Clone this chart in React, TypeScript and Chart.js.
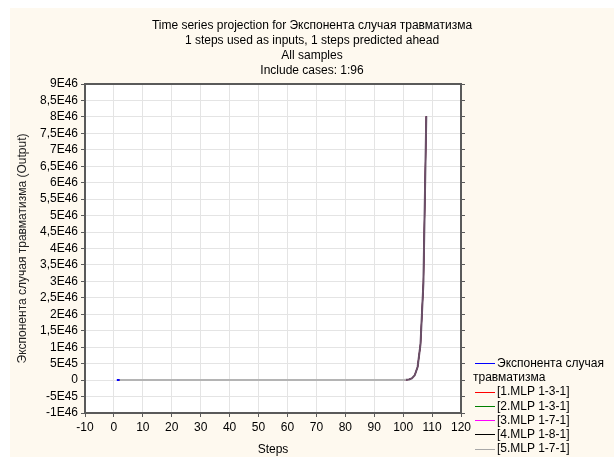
import React, { useEffect, useRef } from 'react';
import { Chart, registerables } from 'chart.js';

Chart.register(...registerables);

const titleLines = [
  'Time series projection for Экспонента случая травматизма',
  '1 steps used as inputs, 1 steps predicted ahead',
  'All samples',
  'Include cases: 1:96',
];
const xAxisTitle = 'Steps';
const yAxisTitle = 'Экспонента случая травматизма (Output)';
const seriesName = 'Экспонента случая травматизма';
const seriesColor = '#0000ff';
const modelNames = ['[1.MLP 1-3-1]', '[2.MLP 1-3-1]', '[3.MLP 1-7-1]', '[4.MLP 1-8-1]', '[5.MLP 1-7-1]'];
const modelColors = ['#ff0000', '#008000', '#ff00ff', '#000000', '#b4b4b4'];
const xMin = -10;
const xMax = 120;
const xStep = 10;
const yMin = -1e46;
const yMax = 9e46;
const yStep = 5e45;
const includedCases = 96;

// Series values for steps 1..108
const seriesValues = [
  2.718, 7.389, 20.09, 54.6, 148.4, 403.4, 1097, 2981, 8103, 2.2e4,
  5.99e4, 1.63e5, 4.42e5, 1.2e6, 3.27e6, 8.89e6, 2.42e7, 6.57e7, 1.78e8, 4.85e8,
  1.32e9, 3.58e9, 9.74e9, 2.65e10, 7.2e10, 1.96e11, 5.32e11, 1.45e12, 3.93e12, 1.07e13,
  2.9e13, 7.9e13, 2.15e14, 5.83e14, 1.59e15, 4.31e15, 1.17e16, 3.19e16, 8.66e16, 2.35e17,
  6.4e17, 1.74e18, 4.73e18, 1.29e19, 3.49e19, 9.5e19, 2.58e20, 7.02e20, 1.91e21, 5.18e21,
  1.41e22, 3.83e22, 1.04e23, 2.83e23, 7.69e23, 2.09e24, 5.69e24, 1.55e25, 4.2e25, 1.14e26,
  3.1e26, 8.44e26, 2.29e27, 6.24e27, 1.7e28, 4.61e28, 1.25e29, 3.41e29, 9.25e29, 2.52e30,
  6.84e30, 1.86e31, 5.05e31, 1.37e32, 3.73e32, 1.01e33, 2.76e33, 7.5e33, 2.04e34, 5.54e34,
  1.51e35, 4.09e35, 1.11e36, 3.02e36, 8.22e36, 2.23e37, 6.07e37, 1.65e38, 4.49e38, 1.22e39,
  3.32e39, 9.02e39, 2.45e40, 6.66e40, 1.81e41, 4.92e41, 1.34e42, 3.64e42, 9.89e42, 2.69e43,
  7.31e43, 1.99e44, 5.4e44, 1.47e45, 3.99e45, 1.09e46, 2.95e46, 8.02e46,
];

const FONT = '"Liberation Sans", Arial, sans-serif';
const FRAME = '#5a5a5a';
const CURVE_BLEND = '#6a5068';

function fmtE(v: number): string {
  if (Math.abs(v) < 1e30) return '0';
  let e = Math.floor(Math.log10(Math.abs(v)) + 1e-9);
  let m = v / Math.pow(10, e);
  m = Math.round(m * 100) / 100;
  if (Math.abs(m) >= 10) {
    m = m / 10;
    e += 1;
  }
  return String(m).replace('.', ',') + 'E' + e;
}

const plotFrame = {
  id: 'plotFrame',
  beforeDraw(chart: any) {
    const { ctx, chartArea } = chart;
    const { left, top, right, bottom } = chartArea;
    ctx.save();
    ctx.fillStyle = '#ffffff';
    ctx.fillRect(left, top, right - left, bottom - top);
    ctx.restore();
  },
  afterDraw(chart: any) {
    const { ctx, chartArea } = chart;
    const { left, top, right } = chartArea;
    ctx.save();
    ctx.strokeStyle = FRAME;
    ctx.lineWidth = 2;
    ctx.beginPath();
    ctx.moveTo(left - 1, top);
    ctx.lineTo(right + 1, top);
    ctx.stroke();
    ctx.restore();
  },
};

export default function App() {
  const canvasRef = useRef<HTMLCanvasElement | null>(null);

  useEffect(() => {
    if (!canvasRef.current) return;
    const observed = seriesValues.slice(0, includedCases).map((v, i) => ({ x: i + 1, y: v }));
    const predicted = seriesValues.slice(1).map((v, i) => ({ x: i + 2, y: v }));

    const datasets: any[] = [
      {
        label: seriesName,
        data: observed,
        borderColor: seriesColor,
        borderWidth: 2,
        pointRadius: 0,
        order: 10,
      },
    ];
    modelNames.forEach((name, i) => {
      const top = i === modelNames.length - 1;
      const ds: any = {
        label: name,
        data: predicted,
        borderColor: modelColors[i],
        borderWidth: top ? 2 : 1,
        pointRadius: 0,
        order: modelNames.length - i,
      };
      if (top) {
        ds.segment = {
          borderColor: (c: any) => (c.p1.parsed.y > 1e44 ? CURVE_BLEND : undefined),
        };
      }
      datasets.push(ds);
    });

    const tickFont = { family: FONT, size: 12 };
    const chart = new Chart(canvasRef.current, {
      type: 'line',
      data: { datasets },
      plugins: [plotFrame],
      options: {
        animation: false,
        responsive: true,
        maintainAspectRatio: false,
        layout: { padding: 0 },
        plugins: {
          legend: { display: false },
          tooltip: { enabled: false },
          title: {
            display: true,
            text: titleLines,
            color: '#000',
            font: { family: FONT, size: 12, weight: 'normal', lineHeight: 1.25 },
            padding: { top: 10, bottom: 6 },
          },
        },
        scales: {
          x: {
            type: 'linear',
            position: 'bottom',
            min: xMin,
            max: xMax,
            afterFit: (s: any) => {
              s.height = 44;
            },
            ticks: {
              stepSize: xStep,
              autoSkip: false,
              maxRotation: 0,
              maxTicksLimit: 30,
              color: '#000',
              font: tickFont,
              padding: 3,
            },
            grid: { color: '#e4e4e4', tickColor: FRAME, tickLength: 4 },
            border: { display: true, color: FRAME, width: 2 },
            title: {
              display: true,
              text: xAxisTitle,
              color: '#000',
              font: tickFont,
              padding: { top: 0, bottom: 0 },
            },
          },
          y: {
            type: 'linear',
            position: 'left',
            min: yMin,
            max: yMax,
            afterFit: (s: any) => {
              s.width = 75;
            },
            ticks: {
              stepSize: yStep,
              autoSkip: false,
              maxTicksLimit: 40,
              color: '#000',
              font: tickFont,
              padding: 3,
              callback: (v: any) => fmtE(Number(v)),
            },
            grid: { color: '#e4e4e4', tickColor: FRAME, tickLength: 4 },
            border: { display: true, color: FRAME, width: 2 },
            title: {
              display: true,
              text: yAxisTitle,
              color: '#222',
              font: tickFont,
              padding: { top: 5, bottom: 0 },
            },
          },
          y2: {
            type: 'linear',
            position: 'right',
            min: yMin,
            max: yMax,
            afterFit: (s: any) => {
              s.width = 153;
            },
            ticks: { display: false, stepSize: yStep, maxTicksLimit: 40, autoSkip: false },
            grid: { drawOnChartArea: false, tickColor: FRAME, tickLength: 4 },
            border: { display: true, color: FRAME, width: 2 },
          },
        },
      } as any,
    });
    return () => chart.destroy();
  }, []);

  const legendItems = [
    { name: seriesName, color: seriesColor },
    ...modelNames.map((n, i) => ({ name: n, color: modelColors[i] === '#b4b4b4' ? '#a8a8a8' : modelColors[i] })),
  ];

  return (
    <div
      style={{
        position: 'fixed',
        left: 10,
        top: 8,
        width: 604,
        height: 449,
        background: '#fef9ef',
        overflow: 'hidden',
      }}
    >
      <canvas ref={canvasRef} />
      <div
        style={{
          position: 'absolute',
          left: 463,
          top: 348,
          width: 141,
          fontFamily: FONT,
          fontSize: 12,
          lineHeight: '14.2px',
          color: '#000',
        }}
      >
        {legendItems.map((it) => (
          <div key={it.name}>
            <span
              style={{
                display: 'inline-block',
                width: 20,
                height: 1,
                background: it.color,
                verticalAlign: 'middle',
                marginLeft: 2,
                marginRight: 2,
              }}
            />
            {it.name}
          </div>
        ))}
      </div>
    </div>
  );
}
